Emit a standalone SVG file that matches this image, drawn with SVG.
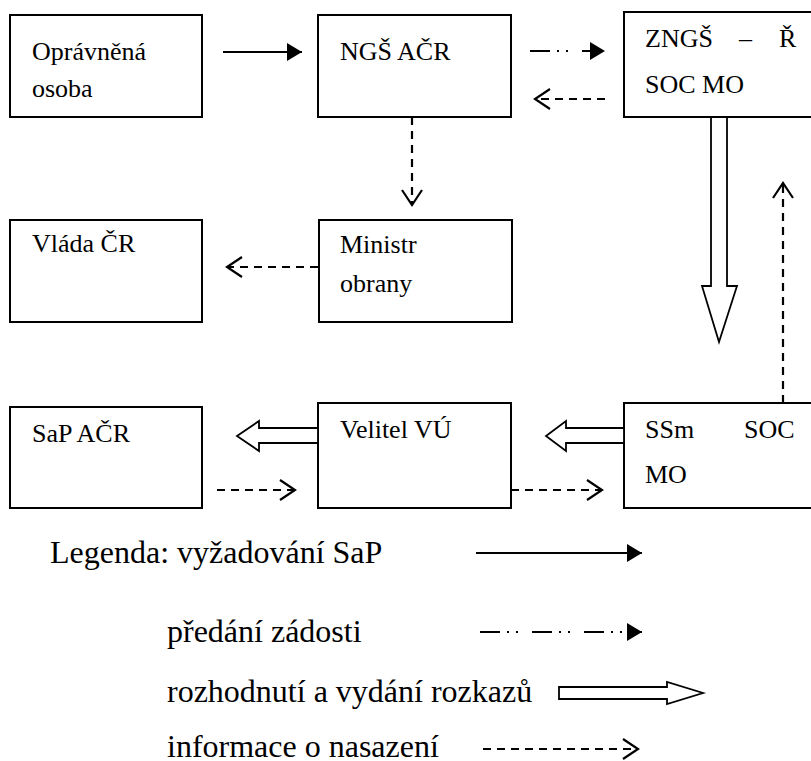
<svg xmlns="http://www.w3.org/2000/svg" width="811" height="761" viewBox="0 0 811 761" font-family="'Liberation Serif', 'Times New Roman', Times, serif">
<style>
.box{fill:#fff;stroke:#000;stroke-width:2}
text{font-family:"Liberation Serif","Times New Roman",Times,serif;fill:#000}
.t{font-size:26px}
.lg{font-size:32px}
.solid{stroke:#000;stroke-width:2;fill:none}
.dash{stroke:#000;stroke-width:2.2;fill:none;stroke-dasharray:8 6}
.dd{stroke:#000;stroke-width:2.2;fill:none;stroke-dasharray:20 7 2 7 2 14}
.hollow{fill:#fff;stroke:#000;stroke-width:1.8;stroke-linejoin:miter}
</style>
<defs>
<marker id="fill" markerUnits="userSpaceOnUse" markerWidth="18" markerHeight="20" refX="16" refY="9" orient="auto">
<path d="M1,0 L16,9 L1,18 Z" fill="#000" stroke="none"/>
</marker>
<marker id="open" markerUnits="userSpaceOnUse" markerWidth="20" markerHeight="24" refX="16" refY="11" orient="auto">
<path d="M1,1 L16,11 L1,21" fill="none" stroke="#000" stroke-width="2.2" stroke-dasharray="none"/>
</marker>
</defs>

<g id="n-opravnena">
<rect class="box" x="10" y="15" width="192" height="102"/>
<text class="t" x="32" y="60" font-family="Liberation Serif">Oprávněná</text>
<text class="t" x="32" y="97" font-family="Liberation Serif">osoba</text>
</g>
<g id="n-ngs">
<rect class="box" x="318" y="15" width="193" height="102"/>
<text class="t" x="340" y="60" font-family="Liberation Serif">NGŠ AČR</text>
</g>
<g id="n-zngs">
<rect class="box" x="624" y="12" width="210" height="105"/>
<text class="t" y="47" font-family="Liberation Serif"><tspan x="645">ZNGŠ</tspan><tspan x="739">–</tspan><tspan x="779">Ř</tspan></text>
<text class="t" x="645" y="93" font-family="Liberation Serif">SOC MO</text>
</g>
<g id="n-vlada">
<rect class="box" x="10" y="220" width="192" height="102"/>
<text class="t" x="32" y="252" font-family="Liberation Serif">Vláda ČR</text>
</g>
<g id="n-ministr">
<rect class="box" x="319" y="220" width="193" height="102"/>
<text class="t" x="340" y="253" font-family="Liberation Serif">Ministr</text>
<text class="t" x="340" y="292" font-family="Liberation Serif">obrany</text>
</g>
<g id="n-sap">
<rect class="box" x="10" y="407" width="192" height="101"/>
<text class="t" x="32" y="442" font-family="Liberation Serif">SaP AČR</text>
</g>
<g id="n-velitel">
<rect class="box" x="318" y="403" width="193" height="105"/>
<text class="t" x="340" y="438" font-family="Liberation Serif">Velitel VÚ</text>
</g>
<g id="n-ssm">
<rect class="box" x="624" y="403" width="210" height="105"/>
<text class="t" x="645" y="438" font-family="Liberation Serif">SSm</text>
<text class="t" x="744" y="438" font-family="Liberation Serif">SOC</text>
<text class="t" x="645" y="483" font-family="Liberation Serif">MO</text>
</g>

<g id="connectors">
<line class="solid" x1="223" y1="52" x2="302" y2="52" marker-end="url(#fill)"/>
<line class="dd" x1="530" y1="51" x2="605" y2="51" marker-end="url(#fill)"/>
<line class="dash" x1="605" y1="99" x2="535" y2="99" marker-end="url(#open)"/>
<line class="dash" x1="412" y1="117" x2="412" y2="205" marker-end="url(#open)"/>
<line class="dash" x1="318" y1="267" x2="227" y2="267" marker-end="url(#open)"/>
<polygon class="hollow" points="711,117 727,117 727,286 737,286 719,342 702,286 711,286"/>
<line class="dash" x1="783" y1="403" x2="783" y2="183" marker-end="url(#open)"/>
<polygon class="hollow" points="318,428 259,428 259,421 237,436 259,451 259,443 318,443"/>
<polygon class="hollow" points="624,428 566,428 566,421 546,436 566,451 566,443 624,443"/>
<line class="dash" x1="217" y1="490" x2="295" y2="490" marker-end="url(#open)"/>
<line class="dash" x1="511" y1="490" x2="602" y2="490" marker-end="url(#open)"/>
</g>

<g id="legend">
<text class="lg" x="50" y="563" font-family="Liberation Serif">Legenda: vyžadování SaP</text>
<line class="solid" x1="476" y1="553" x2="642" y2="553" marker-end="url(#fill)"/>
<text class="lg" x="167" y="642" font-family="Liberation Serif">předání zádosti</text>
<line class="dd" x1="480" y1="632" x2="642" y2="632" marker-end="url(#fill)"/>
<text class="lg" x="167" y="702" font-family="Liberation Serif">rozhodnutí a vydání rozkazů</text>
<polygon class="hollow" points="559,687 667,687 667,682 703,693 667,704 667,699 559,699"/>
<text class="lg" x="167" y="757" font-family="Liberation Serif">informace o nasazení</text>
<line class="dash" x1="483" y1="749" x2="638" y2="749" marker-end="url(#open)"/>
</g>
</svg>
